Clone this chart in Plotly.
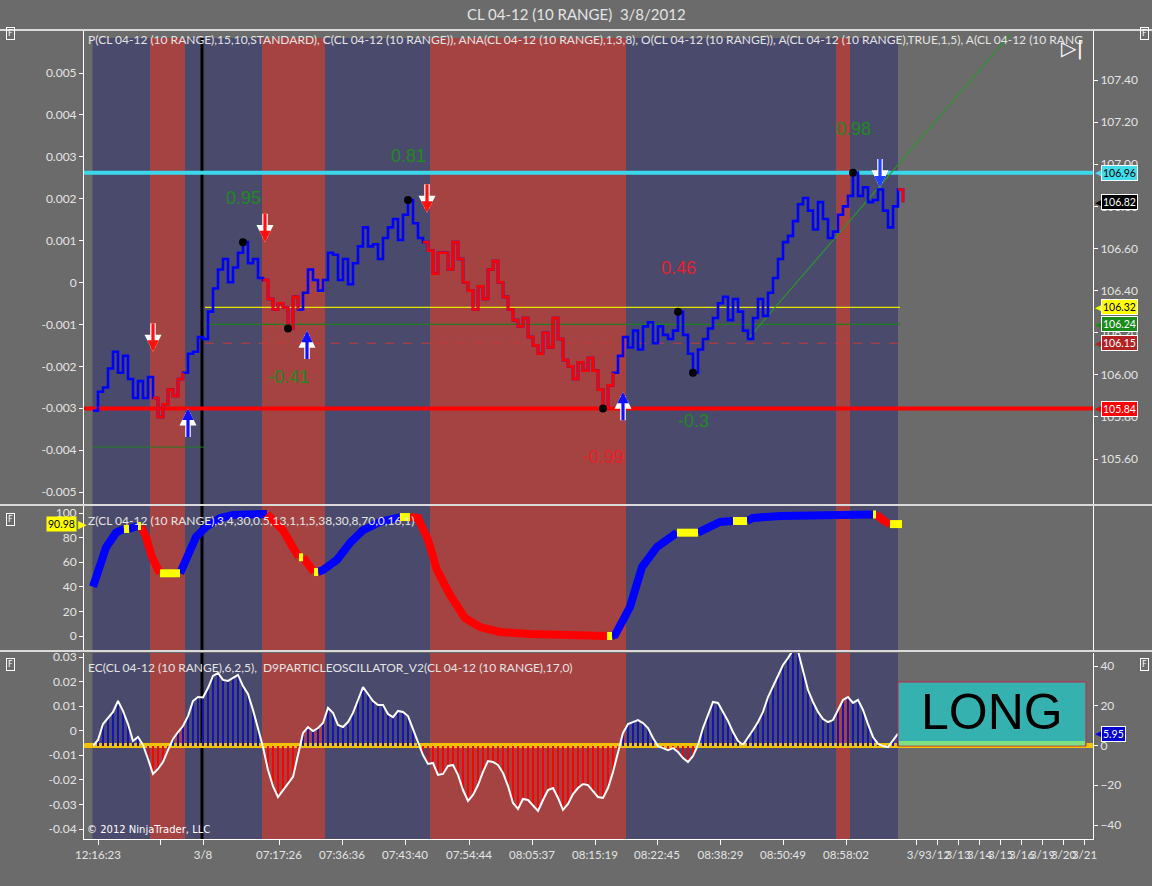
import plotly.graph_objects as go

# ------------------------------------------------------------------ data
title_text = "CL 04-12 (10 RANGE)\u00a0\u00a03/8/2012"

# close of each range bar (bar index = position in list)
price = [
    105.83, 105.92, 105.94, 106.03, 106.11, 106.01, 106.09, 105.98, 105.89, 105.97,
    105.89, 105.99, 105.89, 105.80, 105.86, 105.93, 105.90, 105.98, 106.01, 106.10,
    106.11, 106.18, 106.17, 106.30, 106.41, 106.50, 106.55, 106.44, 106.51, 106.58,
    106.63, 106.53, 106.55, 106.46, 106.45, 106.36, 106.31, 106.34, 106.32, 106.22,
    106.37, 106.31, 106.39, 106.50, 106.45, 106.40, 106.45, 106.58, 106.57, 106.45,
    106.55, 106.43, 106.53, 106.61, 106.70, 106.61, 106.62, 106.55, 106.65, 106.70,
    106.74, 106.64, 106.76, 106.83, 106.72, 106.65, 106.63, 106.59, 106.48, 106.58,
    106.58, 106.50, 106.63, 106.55, 106.44, 106.40, 106.31, 106.42, 106.36, 106.50,
    106.54, 106.44, 106.37, 106.31, 106.26, 106.23, 106.27, 106.18, 106.14, 106.10,
    106.20, 106.13, 106.27, 106.17, 106.07, 106.04, 105.98, 106.06, 106.02, 106.08,
    106.02, 105.93, 105.84, 105.95, 106.01, 106.09, 106.18, 106.13, 106.21, 106.12,
    106.23, 106.25, 106.15, 106.23, 106.19, 106.17, 106.21, 106.30, 106.19, 106.10,
    106.01, 106.12, 106.17, 106.22, 106.27, 106.34, 106.37, 106.26, 106.36, 106.30,
    106.21, 106.17, 106.27, 106.36, 106.28, 106.39, 106.46, 106.55, 106.63, 106.66,
    106.73, 106.81, 106.84, 106.78, 106.69, 106.82, 106.74, 106.65, 106.68, 106.76,
    106.80, 106.85, 106.96, 106.85, 106.89, 106.82, 106.83, 106.88, 106.78, 106.70,
    106.80, 106.88, 106.82,
]
# runs of bars drawn in red (down trend)
red_runs = [(12, 18), (34, 41), (66, 104), (161, 162)]

# swing points
swing_idx = [30, 39, 63, 102, 117, 120, 152]
swing_is_high = [True, False, True, False, True, False, True]
swing_text = ["0.95", "-0.41", "0.81", "-0.99", "0.46", "-0.3", "0.98"]
swing_col = ["#1f8a1f", "#1f8a1f", "#1f8a1f", "#e8202a", "#e8202a", "#1f8a1f", "#1f8a1f"]

# signal arrows (bar, price at arrow tip)
sell_x = [12, 34.4, 66.8]
sell_p = [106.11, 106.63, 106.77]
buy_x = [19, 42.8, 106]
buy_p = [105.84, 106.21, 105.92]
exit_x = [157.4]
exit_p = [106.89]

# price levels
swing_high_level = 106.96
swing_low_level = 105.84
mid_levels = [106.32, 106.24, 106.15]
mid_level_cols = ["#e6e600", "#1f7f1f", "#c83838"]
mid_level_dash = ["solid", "solid", "dash"]
mid_level_span = (22.4, 161.4)
early_level = 105.657
early_level_span = (0, 22.4)
trend_x = [130.8, 183.4]
trend_p = [106.165, 107.614]

# right price tags
tag_vals = [106.96, 106.82, 106.32, 106.24, 106.15, 105.84]
tag_bg = ["#3fdcec", "#000000", "#ffff00", "#1a8a1a", "#b22222", "#ff0000"]
tag_fg = ["#000000", "#ffffff", "#000000", "#ffffff", "#ffffff", "#ffffff"]

# session background bands (start bar, end bar, colour)
band_start = [-0.1, 11.4, 18.4, 33.8, 46.4, 67.4, 106.6, 148.6, 151.4]
band_end = [11.4, 18.4, 33.8, 46.4, 67.4, 106.6, 148.6, 151.4, 161.0]
band_kind = ["b", "r", "b", "r", "b", "r", "b", "r", "b"]
session_break = 21.8

# Z indicator (middle panel)
z_x = [0, 1.4, 2.6, 4.6, 6.2, 7.2, 8.2, 9, 9.6, 10.6, 11.8, 13, 13.4, 17.4, 18.6,
       20.6, 22.6, 25.4, 28, 34.8, 38, 40, 41.2, 42, 43.4, 44.2, 45, 46, 48.8,
       51.4, 54, 57.4, 61.4, 63.4, 65, 67, 68.8, 71.4, 74.4, 77.4, 81.4, 87.4,
       93.4, 101.4, 102.8, 103.8, 104.4, 107.4, 109.8, 112.8, 116.8, 121, 125.4,
       128, 130.8, 132, 137.4, 144, 156, 156.6, 157.8, 158.8, 159.4, 161.8]
z_v = [40, 56, 72, 84, 87, 87, 88.6, 89.4, 89.4, 80.5, 64, 55, 51, 51, 62,
       80.5, 88.6, 96, 98.4, 99.2, 86, 72, 64, 64, 57.7, 52, 52, 53.7, 62,
       75.6, 86, 92.7, 96.7, 96.7, 96, 78, 53.7, 33.3, 14.6, 7.3, 3.3, 1.6,
       0.8, 0.4, 0, 0, 0.8, 23.6, 56, 72.4, 84, 84, 92.7,
       93.5, 93.5, 96, 97.6, 98.4, 98.8, 98.8, 94.3, 92, 90.98, 90.98]
z_last = 90.98

# particle oscillator (bottom panel), one value per bar
osc = [
    -0.2, 2.8, 10.8, 13.8, 16.9, 22.4, 17.4, 10.8, 2.3, 4.3,
    0.3, -6.8, -14.3, -11.8, -8.3, -2.3, 3.3, 6.8, 9.8, 14.8,
    22.4, 24.4, 24.2, 28.9, 35.0, 36.5, 33.0, 32.5, 34.0, 35.5,
    29.9, 25.9, 17.9, 8.8, -0.8, -12.3, -20.4, -25.9, -22.4, -18.9,
    -15.8, -4.8, 6.3, 9.3, 7.3, 8.8, 11.3, 18.9, 16.4, 10.3,
    9.3, 11.8, 16.4, 22.9, 29.4, 25.9, 22.4, 20.4, 20.4, 15.8,
    14.3, 17.4, 16.9, 14.8, 8.3, 2.3, -4.8, -9.3, -8.8, -14.8,
    -14.3, -10.3, -9.8, -14.8, -22.4, -27.9, -24.9, -19.9, -13.3, -7.8,
    -8.3, -9.8, -13.8, -20.4, -28.9, -31.9, -26.9, -27.4, -29.9, -32.9,
    -27.4, -22.4, -21.4, -26.4, -32.4, -29.4, -24.4, -21.4, -19.4, -19.9,
    -22.9, -25.9, -26.4, -21.4, -13.3, -3.3, 6.3, 10.8, 11.8, 12.8,
    11.3, 8.8, 3.8, -0.3, -1.3, -2.3, -1.3, -3.3, -6.3, -8.3,
    -5.3, 0.3, 8.8, 15.8, 21.9, 21.4, 16.9, 12.3, 6.8, 2.3,
    0.3, 3.8, 7.8, 11.8, 16.9, 24.4, 29.9, 35.9, 40.5, 44.0,
    48.0, 47.5, 37.0, 27.9, 21.9, 16.9, 13.3, 11.8, 12.8, 17.9,
    22.9, 24.4, 21.4, 22.9, 17.9, 10.8, 4.3, 0.8, -0.3, -0.8,
    2.8, 5.95,
]

# x axis ticks
x_tickvals = [1.0, 13.4, 22.0, 37.2, 49.8, 62.4, 75.2, 87.8, 100.4, 112.8, 125.5,
              138.0, 150.6, 164.6, 168.9, 173.0, 177.3, 181.5, 185.7, 189.9, 194.1, 198.3]
x_ticktext = ["12:16:23", "", "3/8", "07:17:26", "07:36:36", "07:43:40", "07:54:44",
              "08:05:37", "08:15:19", "08:22:45", "08:38:29", "08:50:49", "08:58:02",
              "3/9", "3/12", "3/13", "3/14", "3/15", "3/16", "3/19", "3/20", "3/21"]

top_left_ticks = [-0.005, -0.004, -0.003, -0.002, -0.001, 0, 0.001, 0.002, 0.003, 0.004, 0.005]
top_left_text = ["-0.005", "-0.004", "-0.003", "-0.002", "-0.001", "0",
                 "0.001", "0.002", "0.003", "0.004", "0.005"]
price_ticks = [105.6, 105.8, 106.0, 106.2, 106.4, 106.6, 106.8, 107.0, 107.2, 107.4]
mid_ticks = [0, 20, 40, 60, 80, 100]
bot_left_ticks = [-0.04, -0.03, -0.02, -0.01, 0, 0.01, 0.02, 0.03]
bot_left_text = ["-0.04", "-0.03", "-0.02", "-0.01", "0", "0.01", "0.02", "0.03"]
bot_right_ticks = [-40, -20, 0, 20, 40]

legend_top = ("P(CL 04-12 (10 RANGE),15,10,STANDARD), C(CL 04-12 (10 RANGE)), "
              "ANA(CL 04-12 (10 RANGE),1,3,8), O(CL 04-12 (10 RANGE)), "
              "A(CL 04-12 (10 RANGE),TRUE,1,5), A(CL 04-12 (10 RANG")
legend_mid = "Z(CL 04-12 (10 RANGE),3,4,30,0.5,13,1,1,5,38,30,8,70,0,16,1)"
legend_bot = ("EC(CL 04-12 (10 RANGE),6,2,5),\u00a0 D9PARTICLEOSCILLATOR_V2"
              "(CL 04-12 (10 RANGE),17,0)")

# ------------------------------------------------------------------ layout constants
W, H = 1152, 886
BG = "#6b6b6b"
BLUE_BAND = "#4a4a6c"
RED_BAND = "#a54242"
TXT = "#e4e4e4"
FONT = "Lato"


def py(px):
    return 1 - px / H


def pxx(px):
    return px / W


XD = [pxx(84), pxx(1093)]
XR = [-1.8, 200.0]
TOP_D = [py(504), py(31)]
MID_D = [py(650), py(506)]
BOT_D = [py(839), py(653)]

fig = go.Figure()

# --- dummy traces so that every axis exists
fig.add_trace(go.Scatter(x=[None], y=[None], xaxis="x", yaxis="y", showlegend=False))
fig.add_trace(go.Scatter(x=[None], y=[None], xaxis="x3", yaxis="y5", showlegend=False))

bars = list(range(len(price)))

# --- top panel: levels
fig.add_trace(go.Scatter(x=[early_level_span[0], early_level_span[1]], y=[early_level] * 2,
                         xaxis="x", yaxis="y2", mode="lines",
                         line=dict(color="#1f7f1f", width=1), showlegend=False, hoverinfo="skip"))
for lv, c, d in zip(mid_levels, mid_level_cols, mid_level_dash):
    fig.add_trace(go.Scatter(x=list(mid_level_span), y=[lv, lv], xaxis="x", yaxis="y2",
                             mode="lines", line=dict(color=c, width=1.2, dash=d),
                             showlegend=False, hoverinfo="skip"))
fig.add_trace(go.Scatter(x=trend_x, y=trend_p, xaxis="x", yaxis="y2", mode="lines",
                         line=dict(color="#2a962a", width=1.2), showlegend=False, hoverinfo="skip"))

# --- price line (blue base, red runs over it)
fig.add_trace(go.Scatter(x=bars, y=price, xaxis="x", yaxis="y2", mode="lines",
                         line=dict(color="#0000ff", width=2.6, shape="hv"),
                         showlegend=False, hoverinfo="skip"))
for a, b in red_runs:
    fig.add_trace(go.Scatter(x=bars[a:b + 1], y=price[a:b + 1], xaxis="x", yaxis="y2",
                             mode="lines", line=dict(color="#ff0000", width=2.6, shape="hv"),
                             showlegend=False, hoverinfo="skip"))

# swing dots
fig.add_trace(go.Scatter(x=swing_idx, y=[price[i] for i in swing_idx], xaxis="x", yaxis="y2",
                         mode="markers", marker=dict(color="black", size=8, symbol="circle"),
                         showlegend=False, hoverinfo="skip"))

# --- middle panel: Z line coloured by direction
runs = []
for k in range(len(z_x) - 1):
    d = z_v[k + 1] - z_v[k]
    key = "up" if d > 0 else ("down" if d < 0 else "flat")
    if runs and runs[-1][0] == key:
        runs[-1][1].append(z_x[k + 1])
        runs[-1][2].append(z_v[k + 1])
    else:
        runs.append([key, [z_x[k], z_x[k + 1]], [z_v[k], z_v[k + 1]]])
zcol = {"up": "#0000ff", "down": "#ff0000", "flat": "#ffff00"}
for key in ("up", "down", "flat"):
    xs, ys = [], []
    for r in runs:
        if r[0] == key:
            xs += r[1] + [None]
            ys += r[2] + [None]
    fig.add_trace(go.Scatter(x=xs, y=ys, xaxis="x2", yaxis="y3", mode="lines",
                             line=dict(color=zcol[key], width=8),
                             showlegend=False, hoverinfo="skip"))

# --- bottom panel: histogram + line
ox = list(range(len(osc)))
fig.add_trace(go.Bar(x=ox, y=osc, xaxis="x3", yaxis="y6", width=0.42,
                     marker=dict(color=["#1414b4" if v >= 0 else "#ff0000" for v in osc],
                                 line=dict(width=0)),
                     showlegend=False, hoverinfo="skip"))
fig.add_trace(go.Scatter(x=ox, y=osc, xaxis="x3", yaxis="y6", mode="lines",
                         line=dict(color="#ffffff", width=2), showlegend=False, hoverinfo="skip"))

# ------------------------------------------------------------------ shapes
shapes = []
for yref, top in (("y domain", 0.985), ("y3 domain", 1.0), ("y5 domain", 1.0)):
    for s, e, k in zip(band_start, band_end, band_kind):
        shapes.append(dict(type="rect", xref="x", yref=yref, x0=s, x1=e, y0=0, y1=top,
                           fillcolor=BLUE_BAND if k == "b" else RED_BAND,
                           line=dict(width=0), layer="below"))
    shapes.append(dict(type="line", xref="x", yref=yref, x0=session_break, x1=session_break,
                       y0=0, y1=top, line=dict(color="black", width=3), layer="below"))
# yellow zero line of the oscillator
shapes.append(dict(type="line", xref="x3 domain", yref="y6", x0=0, x1=1, y0=0, y1=0,
                   line=dict(color="#f2c200", width=5), layer="below"))
# swing high / low levels
shapes.append(dict(type="line", xref="x domain", yref="y2", x0=0, x1=1,
                   y0=swing_high_level, y1=swing_high_level,
                   line=dict(color="#3ad8ea", width=4), layer="below"))
shapes.append(dict(type="line", xref="x domain", yref="y2", x0=0, x1=1,
                   y0=swing_low_level, y1=swing_low_level,
                   line=dict(color="#ff0000", width=4), layer="below"))
# panel separators
for ypx in (30, 505, 651):
    shapes.append(dict(type="line", xref="paper", yref="paper", x0=0, x1=1,
                       y0=py(ypx), y1=py(ypx), line=dict(color="#ffffff", width=1.5)))
# LONG box
shapes.append(dict(type="rect", xref="paper", yref="paper", x0=pxx(898), x1=pxx(1086),
                   y0=py(746), y1=py(682), fillcolor="#35b2b0",
                   line=dict(color="#c8204a", width=1), layer="above"))
shapes.append(dict(type="rect", xref="paper", yref="paper", x0=pxx(899), x1=pxx(1085),
                   y0=py(745.5), y1=py(741), fillcolor="#80e080",
                   line=dict(width=0), layer="above"))

# ------------------------------------------------------------------ axes
tickfont = dict(family=FONT, size=12, color=TXT)
common_y = dict(showgrid=False, zeroline=False, showline=True, linecolor="#ffffff",
                linewidth=1, ticks="outside", ticklen=4, tickcolor="#ffffff",
                tickfont=tickfont, fixedrange=True, automargin=False)
common_x = dict(domain=XD, range=XR, showgrid=False, zeroline=False, fixedrange=True,
                automargin=False)

fig.update_layout(
    width=W, height=H, autosize=False,
    margin=dict(l=0, r=0, t=0, b=0, pad=0, autoexpand=False),
    paper_bgcolor=BG, plot_bgcolor=BG,
    showlegend=False, bargap=0,
    xaxis=dict(anchor="y", showticklabels=False, **common_x),
    xaxis2=dict(anchor="y3", matches="x", showticklabels=False, **common_x),
    xaxis3=dict(anchor="y5", matches="x", showticklabels=True, tickvals=x_tickvals,
                ticktext=x_ticktext, ticks="outside", ticklen=5, tickcolor="#ffffff",
                tickangle=0, showline=True, linecolor="#ffffff", linewidth=1,
                tickfont=dict(family=FONT, size=11.5, color=TXT), **common_x),
    yaxis=dict(domain=TOP_D, anchor="x", range=[-0.0052864, 0.0060024],
               tickvals=top_left_ticks, ticktext=top_left_text, **common_y),
    yaxis2=dict(overlaying="y", side="right", anchor="x", range=[105.3867, 107.6327],
                tickvals=price_ticks, ticktext=[f"{v:.2f}" for v in price_ticks], **common_y),
    yaxis3=dict(domain=MID_D, anchor="x2", range=[-11.38, 105.69], tickvals=mid_ticks,
                mirror=True, **common_y),
    yaxis5=dict(domain=BOT_D, anchor="x3", range=[-0.04407, 0.03163],
                tickvals=bot_left_ticks, ticktext=bot_left_text, **common_y),
    yaxis6=dict(overlaying="y5", side="right", anchor="x3", range=[-47.04, 46.54],
                tickvals=bot_right_ticks, **common_y),
    shapes=shapes,
)

# ------------------------------------------------------------------ annotations
def A(**kw):
    kw.setdefault("xanchor", "center")
    kw.setdefault("yanchor", "middle")
    fig.add_annotation(**kw)


for i, hi, t, c in zip(swing_idx, swing_is_high, swing_text, swing_col):
    A(x=i, y=price[i], xref="x", yref="y2", text=t, showarrow=False,
      yshift=44 if hi else -48, font=dict(family="Liberation Sans", size=18, color=c))


def sig_arrow(x, y, down, fill):
    ay = -30 if down else 30
    for w, sz, col in ((5.5, 0.62, "#ffffff"), (3.2, 0.72, fill)):
        fig.add_annotation(x=x, y=y, xref="x", yref="y2", ax=0, ay=ay, text="",
                           showarrow=True, arrowhead=2, arrowsize=sz, arrowwidth=w,
                           arrowcolor=col, standoff=0, startstandoff=0)


for x, p in zip(sell_x, sell_p):
    sig_arrow(x, p, True, "#ff1010")
for x, p in zip(buy_x, buy_p):
    sig_arrow(x, p, False, "#1010ff")
for x, p in zip(exit_x, exit_p):
    sig_arrow(x, p, True, "#2040ff")

A(text=title_text, xref="paper", yref="paper", x=0.5, y=py(14),
  showarrow=False, font=dict(family=FONT, size=15, color=TXT))
for t, ypx in ((legend_top, 39), (legend_mid, 520), (legend_bot, 667)):
    A(text=t, xref="paper", yref="paper", x=pxx(86), y=py(ypx),
      xanchor="left", showarrow=False, font=dict(family=FONT, size=12, color=TXT))
A(text="\u00a9 2012 NinjaTrader, LLC", xref="paper", yref="paper",
  x=pxx(85), y=py(829), xanchor="left", showarrow=False,
  font=dict(family="DejaVu Sans", size=10, color="#ffffff"))
for fx, fy in ((10, 34), (10, 519), (10, 664), (1144, 34), (1144, 664)):
    A(text="F", xref="paper", yref="paper", x=pxx(fx), y=py(fy),
      showarrow=False, bordercolor="#ffffff", borderwidth=1, borderpad=1,
      font=dict(family="DejaVu Sans", size=8, color="#ffffff"))
A(text="\u25b7|", xref="paper", yref="paper", x=pxx(1072), y=py(48),
  showarrow=False, font=dict(family="DejaVu Sans", size=20, color="#ffffff"))
# price tags
for v, bg, fg in zip(tag_vals, tag_bg, tag_fg):
    A(text="\u25c0", xref="paper", yref="y2", x=pxx(1093), y=v, xanchor="left",
      showarrow=False, font=dict(family="DejaVu Sans", size=11, color=bg))
    A(text=f"{v:.2f}", xref="paper", yref="y2", x=pxx(1101), y=v,
      xanchor="left", showarrow=False, bgcolor=bg, bordercolor="#ffffff",
      borderwidth=1, borderpad=1, font=dict(family=FONT, size=10.5, color=fg))
# Z tag (left, middle panel)
A(text=f"{z_last:.2f}", xref="paper", yref="y3", x=pxx(77), y=z_last,
  xanchor="right", showarrow=False, bgcolor="#ffff00", borderpad=1,
  font=dict(family=FONT, size=10.5, color="#000000"))
A(text="\u25b6", xref="paper", yref="y3", x=pxx(76), y=z_last,
  xanchor="left", showarrow=False, font=dict(family="DejaVu Sans", size=11, color="#ffff00"))
# oscillator tag
A(text="\u25c0", xref="paper", yref="y6", x=pxx(1093), y=osc[-1], xanchor="left",
  showarrow=False, font=dict(family="DejaVu Sans", size=11, color="#0000d0"))
A(text=f"{osc[-1]:.2f}", xref="paper", yref="y6", x=pxx(1101), y=osc[-1],
  xanchor="left", showarrow=False, bgcolor="#0000d0", bordercolor="#ffffff",
  borderwidth=1, borderpad=1, font=dict(family=FONT, size=10.5, color="#ffffff"))
A(text="LONG", xref="paper", yref="paper", x=pxx(992), y=py(712),
  showarrow=False, font=dict(family="Liberation Sans", size=50, color="#000000"))

fig.write_html(
    "out.html",
    config={"displayModeBar": False, "responsive": False},
    post_script="document.body.style.margin='0';document.body.style.overflow='hidden';",
)
